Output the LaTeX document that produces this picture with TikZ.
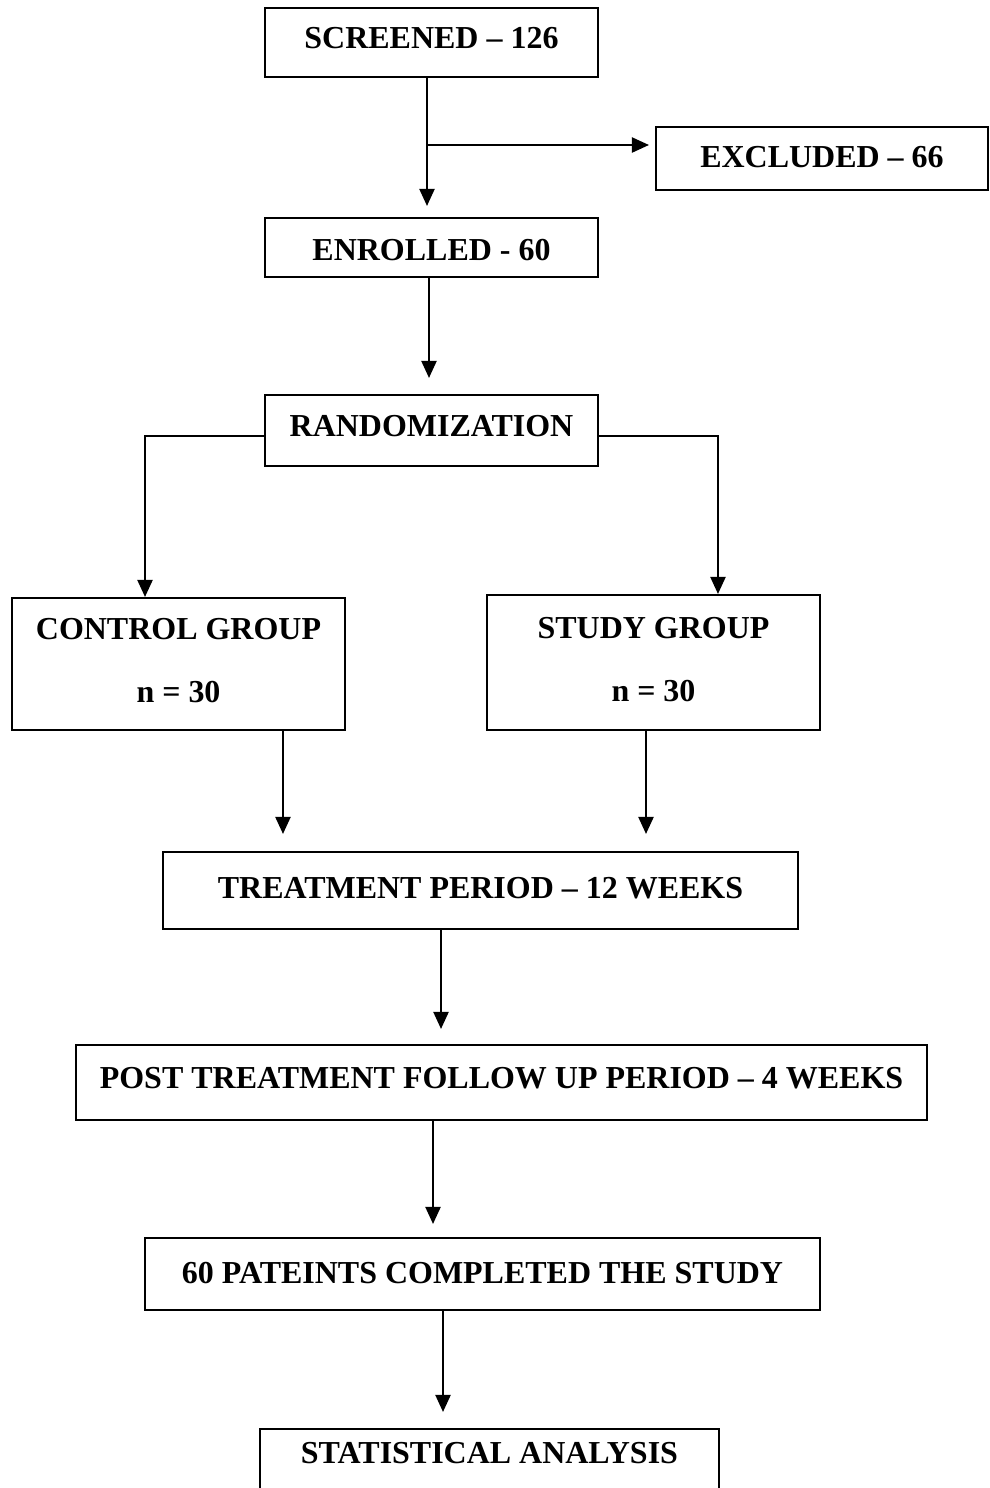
\documentclass[tikz,border=0pt]{standalone}
\usepackage{fontspec}
\setmainfont{Liberation Serif}
\usetikzlibrary{arrows.meta,positioning,calc}

\tikzset{
  stage/.style={rectangle,draw,line width=1.2pt,inner xsep=0pt,inner ysep=0pt,
    anchor=base,align=center,font=\fontsize{18.2}{35.8}\selectfont\bfseries},
  flow/.style={line width=1.2pt,-{Triangle[length=0.34cm,width=0.3cm]}}
}

\begin{document}
\begin{tikzpicture}[x=0.02cm,y=-0.02cm]
\clip (0,0) rectangle (990,1488);
% boxes, placed at (centre, baseline of last line)
\node[stage,minimum width=6.66cm,text height=0.8cm,text depth=0.58cm] (scr) at (431.5,48) {SCREENED -- 126};
\node[stage,minimum width=6.64cm,text height=0.8cm,text depth=0.46cm] (exc) at (822,167) {EXCLUDED -- 66};
\node[stage,minimum width=6.66cm,text height=0.84cm,text depth=0.34cm] (enr) at (431.5,260) {ENROLLED - 60};
\node[stage,minimum width=6.66cm,text height=0.82cm,text depth=0.6cm] (rnd) at (431.5,436) {RANDOMIZATION};
\node[stage,minimum width=6.66cm,text height=2.08cm,text depth=0.56cm] (ctl) at (178.5,702) {CONTROL GROUP\\n = 30};
\node[stage,minimum width=6.66cm,text height=2.12cm,text depth=0.58cm] (stu) at (653.5,701) {STUDY GROUP\\n = 30};
\node[stage,minimum width=12.7cm,text height=0.92cm,text depth=0.62cm] (trt) at (480.5,898) {TREATMENT PERIOD -- 12 WEEKS};
\node[stage,minimum width=17.02cm,text height=0.86cm,text depth=0.64cm] (post) at (501.5,1088) {POST TREATMENT FOLLOW UP PERIOD -- 4 WEEKS};
\node[stage,minimum width=13.5cm,text height=0.9cm,text depth=0.54cm] (done) at (482.5,1283) {60 PATEINTS COMPLETED THE STUDY};
\node[stage,minimum width=9.18cm,text height=0.68cm,text depth=0.8cm] (stat) at (489.5,1463) {STATISTICAL ANALYSIS};

% arrows
\coordinate (split) at (427,145);
\draw[flow,shorten >=0.22cm] ([xshift=-0.09cm]scr.south) -- ([xshift=-0.09cm]scr.south |- enr.north);
\draw[flow,shorten >=0.12cm] (split) -- (split -| exc.west);
\draw[flow,shorten >=0.32cm] ([xshift=-0.05cm]enr.south) -- ([xshift=-0.05cm]enr.south |- rnd.north);
\draw[flow] ([yshift=-0.11cm]rnd.west) -| ([xshift=-0.67cm]ctl.north);
\draw[flow] ([yshift=-0.11cm]rnd.east) -| ([xshift=1.29cm]stu.north);
\draw[flow,shorten >=0.34cm] ([xshift=2.09cm]ctl.south) -- ([xshift=2.09cm]ctl.south |- trt.north);
\draw[flow,shorten >=0.34cm] ([xshift=-0.15cm]stu.south) -- ([xshift=-0.15cm]stu.south |- trt.north);
\draw[flow,shorten >=0.3cm] ([xshift=-0.79cm]trt.south) -- ([xshift=-0.79cm]trt.south |- post.north);
\draw[flow,shorten >=0.26cm] ([xshift=-1.37cm]post.south) -- ([xshift=-1.37cm]post.south |- done.north);
\draw[flow,shorten >=0.32cm] ([xshift=-0.79cm]done.south) -- ([xshift=-0.79cm]done.south |- stat.north);
\end{tikzpicture}
\end{document}
